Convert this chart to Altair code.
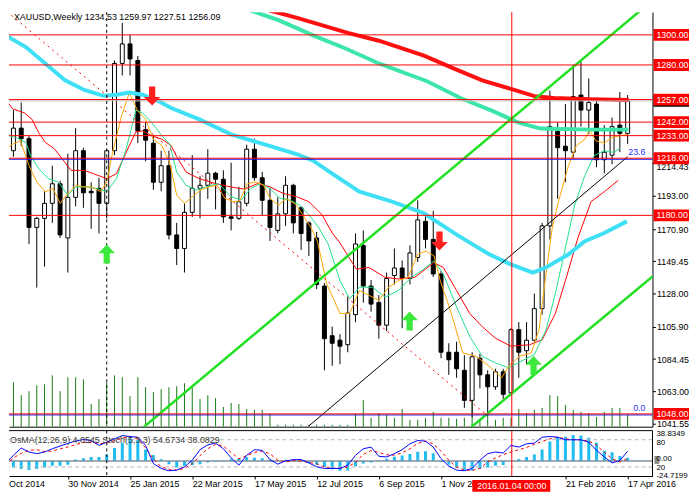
import json
import pandas as pd
import altair as alt

# ---------------- data (week index 0 = week of 5 Oct 2014) ----------------
opens = [1191,1223,1238,1231,1172,1178,1188,1201,1165,1192,
         1223,1196,1198,1188,1223,1281,1294,1283,1237,1228,
         1202,1213,1167,1158,1182,1198,1200,1208,1204,1179,
         1178,1188,1224,1205,1190,1170,1181,1200,1185,1175,
         1165,1133,1100,1097,1094,1114,1160,1133,1122,1107,
         1140,1145,1138,1152,1176,1164,1141,1089,1089,1077,
         1057,1085,1074,1066,1076,1062,1104,1090,1097,1118,
         1173,1236,1226,1222,1260,1250,1254,1217,1220,1240,1234.53]
highs = [1225,1250,1255,1233,1179,1196,1213,1203,1221,1238,
         1225,1202,1205,1224,1283,1308,1300,1286,1242,1233,
         1223,1223,1175,1188,1220,1206,1224,1209,1210,1215,
         1199,1227,1231,1209,1198,1192,1206,1201,1186,1176,
         1169,1135,1106,1101,1126,1168,1170,1137,1127,1142,
         1158,1150,1160,1190,1180,1183,1143,1095,1096,1087,
         1089,1088,1077,1078,1078,1105,1109,1109,1128,1175,
         1263,1242,1254,1280,1282,1271,1256,1240,1245,1262,1259.97]
lows = [1183,1219,1226,1161,1132,1146,1175,1165,1142,1186,
        1185,1171,1168,1178,1220,1273,1273,1228,1216,1197,
        1196,1164,1147,1142,1179,1178,1191,1184,1175,1170,
        1177,1186,1203,1180,1163,1168,1173,1168,1157,1153,
        1131,1077,1080,1081,1089,1109,1122,1116,1098,1103,
        1134,1105,1134,1149,1158,1139,1085,1074,1072,1052,
        1046,1065,1047,1064,1058,1061,1072,1081,1096,1114,
        1164,1191,1202,1218,1239,1234,1212,1208,1214,1222,1227.51]
closes = [1223,1238,1231,1172,1178,1188,1201,1167,1192,1223,
          1195,1195,1188,1223,1281,1294,1284,1236,1230,1202,
          1213,1167,1158,1182,1198,1200,1208,1204,1179,1178,
          1189,1224,1205,1190,1172,1181,1200,1175,1168,1163,
          1134,1098,1095,1093,1115,1161,1133,1121,1107,1138,
          1145,1138,1155,1177,1164,1141,1089,1084,1078,1057,
          1086,1074,1066,1076,1061,1104,1089,1097,1118,1173,
          1239,1225,1223,1259,1250,1255,1217,1222,1239,1234.5,1256.09]
volumes = [40,45,32,36,42,43,52,36,50,50,
           48,23,28,45,52,50,31,50,40,35,
           38,40,41,44,40,28,32,29,20,24,
           23,18,17,17,13,2,2,2,2,2,
           2,2,2,2,2,13,27,9,14,12,
           9,18,7,7,9,15,9,9,8,9,
           28,7,12,7,9,9,18,14,17,19,
           32,31,22,17,15,14,10,15,19,19,12]

# thin moving averages (week index, price)
ma_fast_x = [0.1,0.9,1.9,3,4,5.1,6.1,7,8,9.05,10.1,11.1,12.2,13,13.8,14.9,15.9,17,18,19,
             20.1,21.1,22,23,24,25.1,26.1,27.2,28.2,29.3,30.1,31.1,32.2,33.2,34,35.1,36.1,37.4,38.2,39.3,
             40.1,41.3,43,44.25,45.5,46.75,48,49.25,50.5,51.75,53,54.1,55.1,55.9,57.2,58.8,60.5,62.2,63.8,64.7,
             66.1,67.6,68.6,69.5,70.3,71.1,72.4,73.4,74.5,75.1,75.9,77,78,79,80]
ma_fast_y = [1224.1,1227.4,1229.6,1213.2,1202.2,1195.7,1197.8,1188.0,1194.5,1200.0,1198.9,1198.9,1195.7,1202.2,1223.0,1246.0,1261.3,1249.3,1243.8,1230.6,
             1226.3,1215.0,1193.5,1188.0,1192.4,1196.8,1198.9,1200.0,1191.3,1189.1,1189.6,1201.1,1202.2,1200.0,1191.3,1186.9,1191.3,1186.9,1180.4,1171.6,
             1162.8,1134.4,1114.8,1114.8,1130.0,1126.8,1123.5,1132.2,1136.6,1138.8,1154.1,1156.3,1153.0,1136.6,1117.0,1088.5,1086.3,1079.7,1072.1,1079.7,
             1086.3,1088.5,1103.8,1141.0,1171.6,1189.1,1213.2,1226.3,1230.6,1236.8,1229.6,1228.0,1231.8,1232.9,1233.9]
ma_mid_x = [0.1,1.3,2.6,3.2,4.25,5.5,6.75,8,9.05,10.5,11.75,13,14.25,15.5,16.75,17.6,18.8,20.1,21.1,22,
            23.2,24.5,25.7,27.4,29,30.3,31.5,32.8,34,35.3,36.55,37.8,39,40.3,41.5,43,44.25,45.5,47.2,48.8,
            50.5,52.2,53.8,55.1,56.3,58,59.7,61.3,63,64.7,66.3,68,69.5,70.7,72,73.2,74.5,75.7,77,78.2,79]
ma_mid_y = [1233.3,1231.8,1228.5,1219.7,1211.0,1204.4,1202.2,1193.5,1198.9,1198.9,1197.8,1195.7,1204.4,1224.1,1249.9,1248.2,1241.6,1232.9,1227.4,1208.8,
            1200.0,1196.8,1198.9,1201.1,1192.4,1190.2,1197.8,1201.1,1197.8,1191.3,1190.2,1186.9,1180.4,1171.6,1160.7,1136.6,1124.6,1132.2,1132.2,1125.6,
            1130.0,1138.8,1144.3,1149.7,1141.0,1119.1,1099.4,1086.3,1081.9,1078.7,1083.0,1087.4,1103.8,1127.9,1158.5,1187.0,1206.6,1219.7,1223.0,1221.9,1224.5]
ma_slow_x = [0.1,0.9,2.4,3.4,4.25,5.1,6.3,7.6,8.4,10.1,11.3,13,14.25,15.5,16.75,17.6,18.8,20.1,21.3,22,
             23.2,24.9,27,29,30.7,32.4,34,35.7,37.4,39,40.7,41.3,42,43,45.1,46.75,48.8,50.5,52.6,55.1,
             56.3,58,59.7,61.3,63,65,67.4,69,70.7,72,73.6,75.3,77,78.8]
ma_slow_y = [1256.5,1250.8,1248.2,1243.8,1235.0,1228.5,1224.1,1215.4,1209.9,1209.9,1207.7,1204.4,1207.7,1221.9,1235.5,1236.2,1232.9,1230.6,1226.3,1219.0,
             1208.8,1204.4,1201.1,1198.9,1197.4,1201.1,1198.9,1194.6,1192.4,1189.1,1180.4,1174.8,1168.3,1161.7,1144.3,1145.3,1138.8,1137.7,1138.8,1148.6,
             1145.3,1130.0,1114.7,1106.0,1098.3,1093.0,1094.0,1097.2,1114.7,1136.6,1165.0,1189.1,1195.7,1203.3]
# thick moving averages
ma_cyan_x = [0.1,2.6,5.1,7.6,10.1,12.6,14.25,15.9,17.6,19.7,21.3,24.9,29,33.2,37.4,39.5,42,45.5,49.7,53.8,
             58,62.2,64.9,67.8,69.5,72.4,74.5,77,79.9]
ma_cyan_y = [1299.3,1291.9,1281.0,1270.0,1263.4,1259.5,1260.2,1261.7,1260.2,1255.8,1251.4,1243.8,1233.9,1227.3,1220.8,1216.5,1207.7,1195.7,1189.1,1181.4,
             1167.2,1154.1,1147.6,1142.0,1145.3,1154.1,1162.8,1168.3,1176.0]
ma_teal_x = [29.2,35.1,39.7,43.8,48,54.2,58.5,62.6,66,68.8,75.1,80.1]
ma_teal_y = [1320.3,1309.8,1299.3,1290.8,1281.0,1269.2,1258.0,1249.5,1241.6,1237.7,1237.0,1237.0]
ma_red_x = [31,37.6,44,48,53.8,57.6,61.3,65.1,68,70.5,75.1,80.1]
ma_red_y = [1320.3,1311.2,1301.3,1296.1,1286.2,1277.7,1269.8,1263.9,1259.3,1258.0,1257.3,1256.7]

# drawn objects
channel_up_x = [16, 84]
channel_up_y = [1031.6, 1326.4]
channel_lo_x = [59.5, 84]
channel_lo_y = [1037.5, 1142.8]
trend_x = [39, 80]
trend_y = [1040, 1219]
dash_x = [-1, 61.7]
dash_y = [1320.6, 1048]
red_levels = [1300, 1280, 1257, 1242, 1233, 1218, 1180, 1048]
blue_levels = [1217.3, 1047.3]
bid_price = 1256.09
fib_text = ["23.6", "0.0"]
fib_levels = [1218, 1048]
fib_week = [82.3, 82.3]
arrow_down_x = [18.84, 55.8]
arrow_down_y = [1259.3, 1162.9]
arrow_up_x = [13.0, 51.96, 67.9]
arrow_up_y = [1154.3, 1109.7, 1080.2]
vline_red_week = [65.1]
vline_dash_week = [13]
crosshair_label = ["2016.01.04 00:00"]

axis_vals = [1041.55, 1063.00, 1084.45, 1105.90, 1128.00, 1149.45, 1170.90, 1193.00]
axis_low_tag = [1214.43]
tick_weeks = [8, 16, 24, 32, 40, 48, 56, 72, 80]
tick_labels = ["5 Oct 2014", "30 Nov 2014", "25 Jan 2015", "22 Mar 2015", "17 May 2015",
               "12 Jul 2015", "6 Sep 2015", "1 Nov 2015", "27 Dec 2015", "21 Feb 2016", "17 Apr 2016"]
first_label_visible = ["Oct 2014"]
title_text = ["XAUUSD,Weekly  1234.53 1259.97 1227.51 1256.09"]
ind_text = ["OsMA(12,26,9) 4.0545  Stoch(5,3,3) 54.6734 38.0829"]

osma = [-14,-8.6,-10.7,-12,-10.7,-8.6,-6.4,-6.4,-5.1,2,
        3.4,5.1,5.1,8.6,17,23.5,30.8,27.8,15,7.7,
        2.1,-4.3,-8.6,-6.4,-5.6,-4.3,-2.1,-1,1,2.5,
        3.4,5,4.3,3.5,2,1,1.5,1.5,0.8,-3,
        -5,-8,-11,-13,-12.8,-7,-3.4,-2.1,0.5,3,
        5.5,7,9,12,12.8,10,-1.5,-5,-9,-12.5,
        -12.8,-10.7,-8.6,-6.4,-5.5,-0.5,2.5,5,8.6,15,
        25.5,31.5,32,34.3,33.5,30.5,24,13.5,11.5,6.4,4.2]
stoch_main = [27.5,45.7,61.6,52.9,49.3,52.9,60.1,66,72,77,
              80.4,78.3,67.4,74.6,81.9,89.1,87,85.5,67.4,27.5,
              16.7,11.6,13,20.3,34.8,58,68.8,72.5,60.1,40,
              23.9,45.7,58,56.5,36.2,26.1,33.3,36.2,36.2,29,
              20.3,16.7,16.7,16.7,23.9,45.7,60.1,63.8,43.5,42,
              49.3,58,71,78.3,76.8,63.8,38.4,21.7,13,11.6,
              16.7,34.8,49.3,52.9,50.7,67.4,63.8,71,72.5,85.5,
              87,85.5,79.8,79.8,79.8,74.6,56.5,42,29,34,54.7]
stoch_signal = [25,40,50,56.5,58,54,55,60,64,69,
                74,74,71,73,78,84,87,82,62,38,
                20,15,13,16.7,27.5,45,60,70,66,52,
                38,45,52,55,49,35,31,34,33,30,
                27,20,17,16.7,20,30,48,56,52,47,
                46,51,60,72,76.8,71,55,35,20,13,
                12,17,31,40,47,53,58,63,70,76,
                82,85.5,82,80,79.8,77,68,52,38,31,38.1]
ind_label_text = ["38.8349", "80", "20", "-24.7199"]
ind_label_pos = [92.4, 73, 18.5, 0]

# ---------------- layout / styles ----------------
W = 652
HM = 420
HI = 46
FONT = "Liberation Sans"
XS = alt.Scale(domain=[1.0625, 82.5625], nice=False, zero=False)
YS = alt.Scale(domain=[1039.5, 1315.1], nice=False, zero=False)
VS = alt.Scale(domain=[0, 420], nice=False, zero=False)
OS = alt.Scale(domain=[-20, 40], nice=False, zero=False)
SS = alt.Scale(domain=[0, 100], nice=False, zero=False)

XAX_M = alt.Axis(labels=False, ticks=False, domain=True, domainColor="black",
                 grid=False, title=None)
YAX = alt.Axis(orient="right", values=axis_vals, format=".2f", tickSize=3,
               tickColor="black", labelPadding=1, labelFont=FONT, labelFontSize=9,
               labelColor="black", domain=True, domainColor="black", grid=False,
               title=None, labelOverlap=False)
XAX_I = alt.Axis(values=tick_weeks,
                 labelExpr=json.dumps(tick_labels) + "[round(datum.value / 8)]",
                 labelAlign="left", labelBaseline="top", labelPadding=1, tickSize=3,
                 tickColor="black", domainColor="black", labelFont=FONT,
                 labelFontSize=9, labelColor="black", grid=False, title=None,
                 labelFlush=False, labelOverlap=False)


def xm(f="i"):
    return alt.X(f + ":Q", scale=XS, axis=XAX_M)


def ym(f):
    return alt.Y(f + ":Q", scale=YS, axis=YAX)


def xi(f="i"):
    return alt.X(f + ":Q", scale=XS, axis=XAX_I)


def line(xs, ys, **kw):
    return alt.Chart(pd.DataFrame({"x": xs, "y": ys})).mark_line(clip=True, **kw).encode(
        x=xm("x"), y=ym("y"))


UP = "M0,-1.15 L1,-0.1 L0.38,-0.1 L0.38,1.15 L-0.38,1.15 L-0.38,-0.1 L-1,-0.1 Z"
DOWN = "M0,1.15 L1,0.1 L0.38,0.1 L0.38,-1.15 L-0.38,-1.15 L-0.38,0.1 L-1,0.1 Z"

cdf = pd.DataFrame({"i": list(range(len(opens))), "o": opens, "h": highs,
                    "l": lows, "c": closes, "v": volumes})

# ---------------- main panel ----------------
vol = alt.Chart(cdf).mark_rule(color="#137a13", strokeWidth=1, clip=True).encode(
    x=xm(), y=alt.Y("v:Q", scale=VS, axis=None), y2=alt.datum(0))

wick = alt.Chart(cdf).mark_rule(color="black", strokeWidth=1, clip=True).encode(
    x=xm(), y=ym("l"), y2=alt.Y2("h:Q"))
body = alt.Chart(cdf).mark_bar(size=4, stroke="black", strokeWidth=1, clip=True).encode(
    x=xm(), y=ym("o"), y2=alt.Y2("c:Q"),
    fill=alt.condition("datum.c >= datum.o", alt.value("white"), alt.value("black")))

lvl_df = pd.DataFrame({"p": red_levels, "t": ["%.2f" % v for v in red_levels]})
hl_red = alt.Chart(lvl_df).mark_rule(color="#ff0000", strokeWidth=1).encode(y=ym("p"))
hl_blue = alt.Chart(pd.DataFrame({"p": blue_levels})).mark_rule(
    color="#1010ee", strokeWidth=1).encode(y=ym("p"))
bid_df = pd.DataFrame({"p": [bid_price], "t": ["%.2f" % bid_price]})
hl_bid = alt.Chart(bid_df).mark_rule(color="#c0c0c0", strokeWidth=1).encode(y=ym("p"))

vdf_red = pd.DataFrame({"i": vline_red_week})
vdf_dash = pd.DataFrame({"i": vline_dash_week})
v_red = alt.Chart(vdf_red).mark_rule(color="red", strokeWidth=1).encode(x=xm())
v_dash = alt.Chart(vdf_dash).mark_rule(color="black", strokeWidth=1,
                                       strokeDash=[3, 3]).encode(x=xm())

arr_dn = alt.Chart(pd.DataFrame({"x": arrow_down_x, "y": arrow_down_y})).mark_point(
    shape=DOWN, size=280, filled=True, color="#ff1f1f", opacity=1, clip=True).encode(
    x=xm("x"), y=ym("y"))
arr_up = alt.Chart(pd.DataFrame({"x": arrow_up_x, "y": arrow_up_y})).mark_point(
    shape=UP, size=280, filled=True, color="#3be83b", opacity=1, clip=True).encode(
    x=xm("x"), y=ym("y"))

fib = alt.Chart(pd.DataFrame({"x": fib_week, "p": fib_levels, "t": fib_text})).mark_text(
    align="right", baseline="alphabetic", dy=-3, font=FONT, fontSize=9,
    color="#2a2aff").encode(x=xm("x"), y=ym("p"), text="t:N")

bid_box = alt.Chart(bid_df).mark_rect(color="black", yOffset=-6, y2Offset=6).encode(
    y=ym("p"), y2=alt.Y2("p:Q"), x=alt.value(W + 1), x2=alt.value(W + 37))
tag_box = alt.Chart(lvl_df).mark_rect(color="#ff0000", yOffset=-6, y2Offset=6).encode(
    y=ym("p"), y2=alt.Y2("p:Q"), x=alt.value(W + 1), x2=alt.value(W + 37))
tag_txt = alt.Chart(lvl_df).mark_text(align="left", baseline="middle", color="white",
                                      font=FONT, fontSize=9).encode(
    y=ym("p"), x=alt.value(W + 4), text="t:N")
low_df = pd.DataFrame({"p": axis_low_tag, "t": ["%.2f" % v for v in axis_low_tag]})
low_tick = alt.Chart(low_df).mark_rule(color="black", strokeWidth=1).encode(
    y=ym("p"), x=alt.value(W), x2=alt.value(W + 3))
low_txt = alt.Chart(low_df).mark_text(align="left", baseline="middle", dy=4,
                                      font=FONT, fontSize=9, color="black").encode(
    y=ym("p"), x=alt.value(W + 4), text="t:N")

title = alt.Chart(pd.DataFrame({"t": title_text})).mark_text(
    align="left", baseline="top", font=FONT, fontSize=9, color="black").encode(
    x=alt.value(5), y=alt.value(1), text="t:N")

price = alt.layer(
    wick, body,
    line(ma_slow_x, ma_slow_y, color="#ff0000", strokeWidth=1),
    line(ma_mid_x, ma_mid_y, color="#22e08a", strokeWidth=1),
    line(ma_fast_x, ma_fast_y, color="#ffa500", strokeWidth=1),
    line(ma_cyan_x, ma_cyan_y, color="#3fe0f5", strokeWidth=4),
    line(ma_teal_x, ma_teal_y, color="#3ce6aa", strokeWidth=4),
    line(ma_red_x, ma_red_y, color="#ff1010", strokeWidth=4),
    line(channel_up_x, channel_up_y, color="#22e022", strokeWidth=2.5),
    line(channel_lo_x, channel_lo_y, color="#22e022", strokeWidth=2.5),
    line(trend_x, trend_y, color="black", strokeWidth=1),
    line(dash_x, dash_y, color="#ff0000", strokeWidth=1, strokeDash=[2, 4]),
    hl_bid, hl_blue, hl_red, v_red, v_dash,
    arr_dn, arr_up, fib,
    low_tick, low_txt, bid_box, tag_box, tag_txt, title,
)

main = alt.layer(vol, price).resolve_scale(y="independent").properties(width=W, height=HM)

# ---------------- indicator panel ----------------
idf = pd.DataFrame({"i": list(range(len(osma))), "m": osma, "s": stoch_main,
                    "g": stoch_signal})

osma_bars = alt.Chart(idf).mark_bar(size=3, color="#1ebcf0", clip=True).encode(
    x=xi(), y=alt.Y("m:Q", scale=OS, axis=None), y2=alt.datum(0))
zdf = pd.DataFrame({"z": [0], "t": ["0.00"]})
zero_line = alt.Chart(zdf).mark_rule(color="#7f8f9f", strokeWidth=1.5).encode(
    y=alt.Y("z:Q", scale=OS, axis=None))
zero_box = alt.Chart(zdf).mark_rect(color="#8a8a8a", yOffset=-5, y2Offset=3).encode(
    y=alt.Y("z:Q", scale=OS, axis=None), y2=alt.Y2("z:Q"),
    x=alt.value(W + 2), x2=alt.value(W + 7))
zero_txt = alt.Chart(zdf).mark_text(align="left", baseline="middle", font=FONT, dy=-1.7,
                                    fontSize=8, color="black").encode(
    y=alt.Y("z:Q", scale=OS, axis=None), x=alt.value(W + 4), text="t:N")
osma_layer = alt.layer(osma_bars, zero_line, zero_box, zero_txt)

st_lv = alt.Chart(pd.DataFrame({"lv": [80, 20]})).mark_rule(
    color="#b8b8b8", strokeDash=[4, 3], strokeWidth=1).encode(
    y=alt.Y("lv:Q", scale=SS, axis=None))
st_sig = alt.Chart(idf).mark_line(color="#ff0000", strokeWidth=1, strokeDash=[3, 3],
                                  clip=True).encode(
    x=xi(), y=alt.Y("g:Q", scale=SS, axis=None))
st_main = alt.Chart(idf).mark_line(color="#0000ff", strokeWidth=1, clip=True).encode(
    x=xi(), y=alt.Y("s:Q", scale=SS, axis=None))
st_lab = alt.Chart(pd.DataFrame({"t": ind_label_text, "v": ind_label_pos})).mark_text(
    align="left", baseline="middle", font=FONT, fontSize=8, color="black").encode(
    y=alt.Y("v:Q", scale=SS, axis=None), x=alt.value(W + 4), text="t:N")
iv_red = alt.Chart(vdf_red).mark_rule(color="red", strokeWidth=1).encode(x=xi())
iv_dash = alt.Chart(vdf_dash).mark_rule(color="black", strokeWidth=1,
                                        strokeDash=[3, 3]).encode(x=xi())
top_border = alt.Chart(vdf_red).mark_rule(color="black", strokeWidth=1).encode(
    y=alt.value(0))
right_border = alt.Chart(vdf_red).mark_rule(color="black", strokeWidth=1).encode(
    x=alt.value(W))
ind_title = alt.Chart(pd.DataFrame({"t": ind_text})).mark_text(
    align="left", baseline="middle", font=FONT, fontSize=9, color="#3a3a3a").encode(
    x=alt.value(1), y=alt.value(10), text="t:N")
first_lab = alt.Chart(pd.DataFrame({"t": first_label_visible})).mark_text(
    align="left", baseline="top", font=FONT, fontSize=9, color="black").encode(
    x=alt.value(0), y=alt.value(HI + 4), text="t:N")
cross_df = pd.DataFrame({"i": vline_red_week, "t": crosshair_label})
cross_box = alt.Chart(cross_df).mark_rect(color="#ff0000", xOffset=-40, x2Offset=39).encode(
    x=xi(), x2=alt.X2("i:Q"), y=alt.value(HI + 4), y2=alt.value(HI + 16))
cross_txt = alt.Chart(cross_df).mark_text(align="center", baseline="middle", font=FONT,
                                          fontSize=9, color="white").encode(
    x=xi(), y=alt.value(HI + 10), text="t:N")

stoch_layer = alt.layer(st_lv, iv_dash, iv_red, st_sig, st_main, st_lab, ind_title,
                        top_border, right_border, first_lab, cross_box, cross_txt)

ind = alt.layer(osma_layer, stoch_layer).resolve_scale(y="independent").properties(
    width=W, height=HI)

chart = alt.vconcat(main, ind, spacing=1).properties(
    padding=0, background="white").configure_view(stroke=None)

chart.save("out.html", embed_options={"renderer": "svg", "actions": False})
